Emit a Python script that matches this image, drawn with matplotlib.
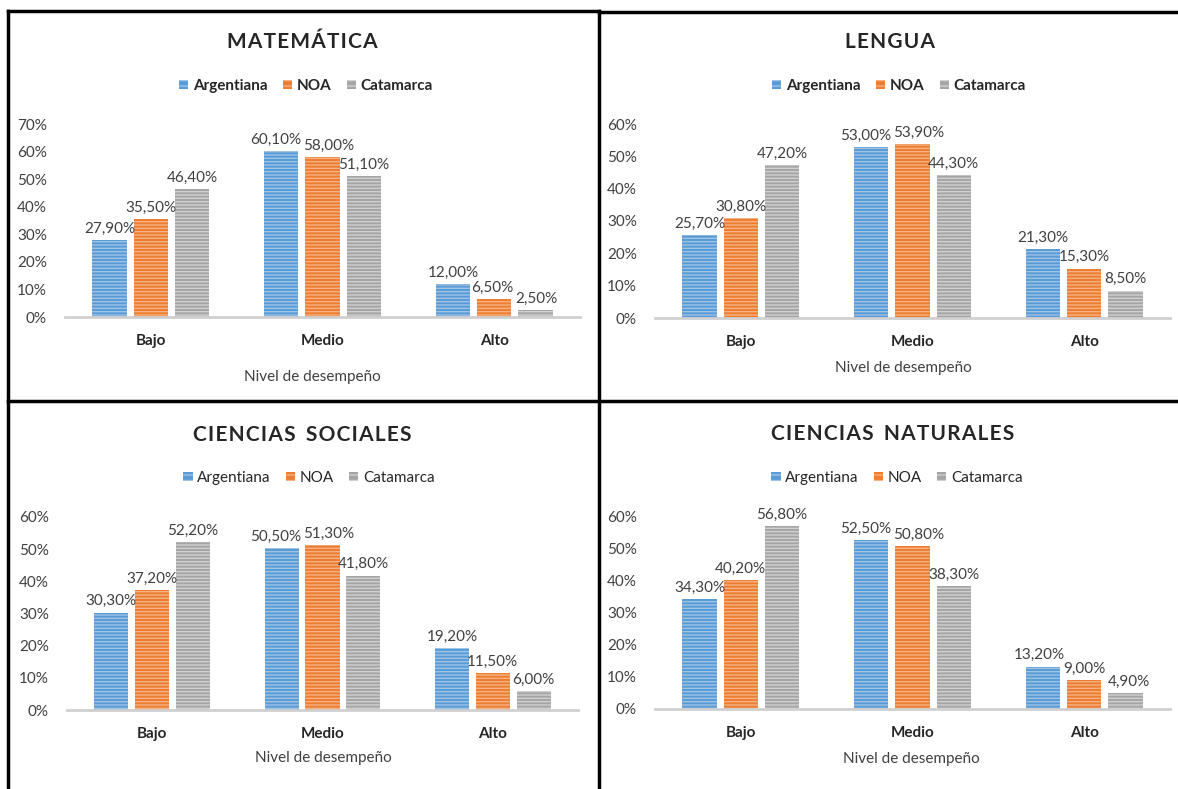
import matplotlib
matplotlib.use("Agg")
import matplotlib.pyplot as plt
from matplotlib.patches import Patch
from matplotlib.lines import Line2D
import numpy as np

plt.rcParams['font.family'] = ['Lato', 'DejaVu Sans']
plt.rcParams['hatch.linewidth'] = 1.0

# data
categories = ['Bajo', 'Medio', 'Alto']
series_names = ['Argentiana', 'NOA', 'Catamarca']
subjects = ['MATEMÁTICA', 'LENGUA', 'CIENCIAS SOCIALES', 'CIENCIAS NATURALES']

matematica = [[27.9, 60.1, 12.0], [35.5, 58.0, 6.5], [46.4, 51.1, 2.5]]
lengua = [[25.7, 53.0, 21.3], [30.8, 53.9, 15.3], [47.2, 44.3, 8.5]]
sociales = [[30.3, 50.5, 19.2], [37.2, 51.3, 11.5], [52.2, 41.8, 6.0]]
naturales = [[34.3, 52.5, 13.2], [40.2, 50.8, 9.0], [56.8, 38.3, 4.9]]
y_max = [70, 60, 60, 60]

colors = ['#5B9BD5', '#ED7D31', '#A5A5A5']
stripe = ['#9DC3E6', '#F4B183', '#D0D0D0']

W, H = 1178, 789
fig = plt.figure(figsize=(W / 100, H / 100), dpi=100)


def fx(px):
    return px / W


def fy(py):
    return 1 - py / H


# panel layout in pixels: axes left, right, bottom(0%), top(max), title y, legend x/y, xlabel x/y
panels = [
    dict(l=65, r=580, b=317, t=124, tx=302, ty=42, lx=306, ly=86, nx=312, ny=377, bold_leg=True),
    dict(l=655, r=1170, b=318, t=124, tx=890, ty=42, lx=899, ly=86, nx=903, ny=368, bold_leg=True),
    dict(l=67, r=578, b=710, t=517, tx=302, ty=435, lx=309, ly=478, nx=323, ny=758, bold_leg=False),
    dict(l=655, r=1170, b=709, t=516, tx=893, ty=434, lx=897, ly=478, nx=911, ny=759, bold_leg=False),
]
datasets = [matematica, lengua, sociales, naturales]

x = np.arange(len(categories))
bw = 0.2
offsets = [-0.24, 0, 0.24]
groups = []  # labels per category group, left to right

for p, data, title, ymax in zip(panels, datasets, subjects, y_max):
    ax = fig.add_axes([fx(p['l']), fy(p['b']), fx(p['r'] - p['l']), (p['b'] - p['t']) / H])
    labels = [[] for _ in categories]
    for i in range(3):
        bars = ax.bar(x + offsets[i], data[i], bw, color=colors[i], edgecolor=stripe[i],
                      linewidth=0, hatch='-----')
        for j, (rect, v) in enumerate(zip(bars, data[i])):
            t = ax.annotate(('%.2f%%' % v).replace('.', ','),
                            (rect.get_x() + rect.get_width() / 2, v),
                            xytext=(0, 3), textcoords='offset points',
                            ha='center', va='bottom', fontsize=11, color='#404040')
            labels[j].append(t)
    groups.extend(labels)
    ax.set_xlim(-0.5, 2.5)
    ax.set_ylim(0, ymax)
    ax.set_yticks(np.arange(0, ymax + 1, 10))
    ax.set_yticklabels(['%d%%' % v for v in np.arange(0, ymax + 1, 10)])
    ax.set_xticks(x)
    ax.set_xticklabels(categories, fontweight='bold', fontsize=11, color='#262626')
    ax.tick_params(axis='x', length=0, pad=12)
    ax.tick_params(axis='y', length=0, pad=13, labelsize=11, labelcolor='#404040')
    for s in ['top', 'right', 'left']:
        ax.spines[s].set_visible(False)
    ax.spines['bottom'].set_color('#D0D0D0')
    ax.spines['bottom'].set_linewidth(2)
    ax.patch.set_alpha(0)

    fig.text(fx(p['tx']), fy(p['ty']), '\u200a'.join(title).replace('\u200a \u200a', '  '),
             ha='center', va='center', fontsize=15, fontweight='bold', color='#262626')
    fig.text(fx(p['nx']), fy(p['ny']), 'Nivel de desempeño', ha='center', va='center',
             fontsize=11, color='#404040')

    handles = [Patch(facecolor=colors[i], edgecolor=stripe[i], linewidth=0, hatch='---')
               for i in range(3)]
    leg = fig.legend(handles, series_names, loc='center', bbox_to_anchor=(fx(p['lx']), fy(p['ly'])),
                     ncol=3, frameon=False, handlelength=0.6, handleheight=0.6,
                     handletextpad=0.3, columnspacing=1.0,
                     prop=dict(size=11, weight='bold' if p['bold_leg'] else 'normal'))
    for t in leg.get_texts():
        t.set_color('#262626')

# push apart data labels that collide, like the spreadsheet does
fig.canvas.draw()
renderer = fig.canvas.get_renderer()
for labs in groups:
    for a, b in zip(labs[:-1], labs[1:]):
        ba = a.get_window_extent(renderer)
        bb = b.get_window_extent(renderer)
        over_x = ba.x1 - bb.x0 + 2
        over_y = min(ba.y1, bb.y1) - max(ba.y0, bb.y0)
        if over_x > 0 and over_y > 0:
            shift = over_x / 2 * 72 / fig.dpi
            xa, ya = a.xyann
            xb, yb = b.xyann
            a.xyann = (xa - shift, ya)
            b.xyann = (xb + shift, yb)

# panel borders
lines = [
    ([8, 8], [11, 789], 2.5),
    ([8, 599], [11, 11], 2.5),
    ([599, 1178], [12, 12], 2.5),
    ([599, 599], [11, 789], 2.5),
    ([8, 1178], [401, 401], 2.5),
]
for xs, ys, lw in lines:
    fig.add_artist(Line2D([fx(v) for v in xs], [fy(v) for v in ys], color='black', linewidth=lw))

fig.savefig('out.png', dpi=100)
